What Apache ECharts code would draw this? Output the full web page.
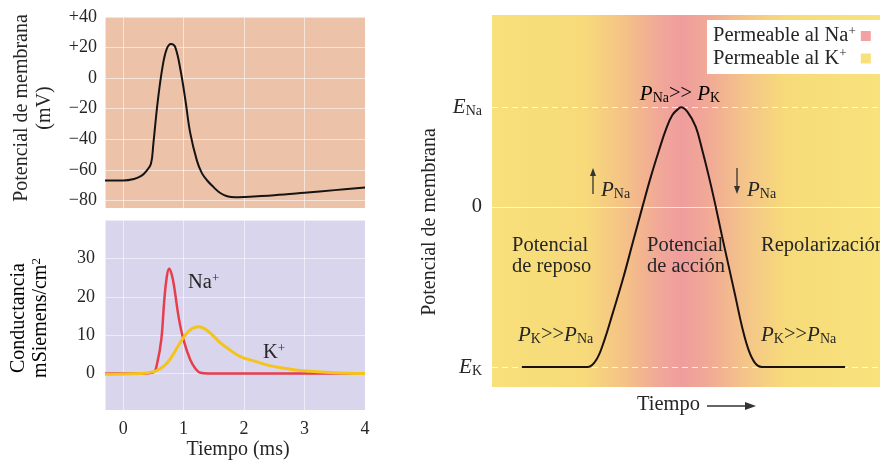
<!DOCTYPE html>
<html>
<head>
<meta charset="utf-8">
<title>Potencial de acción</title>
<script src="https://cdn.jsdelivr.net/npm/echarts@6/dist/echarts.min.js"></script>
<style>
  html, body { margin: 0; padding: 0; background: #fff; }
  #chart { width: 880px; height: 462px; }
</style>
</head>
<body>
<div id="chart"></div>
<script>
  // potencial de membrana (mV) frente al tiempo (ms)
  const vmTime = [-0.3, 0.0, 0.18, 0.3, 0.38, 0.46, 0.5, 0.57, 0.65, 0.72, 0.79, 0.86, 0.95, 1.03, 1.11, 1.22, 1.3, 1.39, 1.5, 1.6, 1.72, 1.85, 2.0, 2.5, 3.0, 3.5, 4.0]
  const vmValues = [-67, -67, -66, -64, -61, -56, -42.8, -16, 7, 19, 22.4, 20.5, 5, -14.5, -36, -54, -62, -67, -71.5, -75, -77.3, -78, -77.8, -76.6, -75, -73.3, -71.6]

  // conductancias (mSiemens/cm2)
  const naTime = [-0.3, 0.3, 0.5, 0.56, 0.63, 0.68, 0.72, 0.76, 0.8, 0.84, 0.92, 1.0, 1.11, 1.2, 1.28, 1.4, 2, 3, 4]
  const naValues = [0, 0, 0.3, 2.5, 8.7, 19, 25, 27.3, 26, 23, 14.5, 8.7, 3.6, 1.2, 0.2, 0, 0, 0, 0]
  const kTime = [-0.3, 0.3, 0.51, 0.62, 0.73, 0.82, 0.9, 1.0, 1.07, 1.14, 1.24, 1.32, 1.39, 1.5, 1.6, 1.75, 1.93, 2.2, 2.44, 2.7, 2.98, 3.5, 4.0]
  const kValues = [-0.2, 0, 0.5, 1.3, 2.8, 4.8, 6.9, 9.4, 10.8, 11.7, 12.2, 11.9, 11.2, 9.7, 8.1, 6.3, 4.5, 3.1, 2.0, 1.3, 0.7, 0.2, 0]

  // esquema: potencial frente a tiempo (unidades arbitrarias)
  const apTime = [7.7, 18, 24.7, 26.85, 28.97, 31.1, 33.67, 36.23, 38.79, 40.95, 43.08, 44.79, 46.49, 48.21, 48.72, 50.33, 52.49, 54.18, 55.9, 57.62, 59.31, 61.03, 62.74, 64.44, 66.15, 67.87, 69.56, 76, 91.0]
  const apValues = [-88, -88, -88, -84.2, -73.2, -58.5, -40.2, -20, 0.2, 16.7, 31.4, 42.4, 50.6, 54.3, 54.8, 52.4, 44.2, 31.4, 16.7, 0.6, -16.3, -32.8, -49.3, -65.8, -78.7, -86, -88, -88, -88]
  const E_NA = 55
  const E_K = -88

  const SERIF = 'Liberation Serif'
  const INK = '#262626'

  const zip = (xs, ys) => xs.map((x, i) => [x, ys[i]])

  const sub = {fontFamily: SERIF, fontSize: 14, color: INK, padding: [9, 0, 0, 0]}
  const sup = {fontFamily: SERIF, fontSize: 13, color: INK, padding: [0, 0, 9, 0]}
  const it = {fontFamily: SERIF, fontSize: 21, fontStyle: 'italic', color: INK}
  const tx = {fontFamily: SERIF, fontSize: 20.5, color: INK}
  const rich = {i: it, s: sub, u: sup, t: tx}

  // hueco para que los textos de la leyenda queden alineados a la izquierda
  const ctx = document.createElement('canvas').getContext('2d')
  ctx.font = '20.5px "Liberation Serif"'
  const legendGap = ctx.measureText('Na').width - ctx.measureText('K').width
  const legendRich = Object.assign({}, rich, {g: {width: legendGap}})

  const gridLine = {show: true, lineStyle: {color: 'rgba(255,255,255,0.55)', width: 1}}

  const chart = echarts.init(document.getElementById('chart'), null, {renderer: 'canvas'})

  function text(x, y, str, extra) {
    return Object.assign({
      type: 'text', x: x, y: y, silent: true,
      style: {text: str, rich: rich, fontFamily: SERIF, fontSize: 20.5, fill: INK,
        align: 'left', verticalAlign: 'middle', lineHeight: 21}
    }, extra || {})
  }

  function arrow(x, y1, y2) {
    const dir = y2 > y1 ? 1 : -1
    return [
      {type: 'line', silent: true, shape: {x1: x, y1: y1, x2: x, y2: y2 - dir * 6}, style: {stroke: '#333', lineWidth: 1.3}},
      {type: 'polygon', silent: true, shape: {points: [[x - 3, y2 - dir * 8], [x + 3, y2 - dir * 8], [x, y2]]}, style: {fill: '#333'}}
    ]
  }

  const refLine = {color: 'rgba(255,255,255,0.8)', type: [6, 4], width: 1}

  chart.setOption({
    animation: false,
    textStyle: {fontFamily: SERIF},
    grid: [
      {left: 105, top: 17, width: 260, height: 191, show: true, backgroundColor: '#ecc3a9', borderWidth: 0},
      {left: 105, top: 220, width: 260, height: 190, show: true, backgroundColor: '#d9d5ec', borderWidth: 0},
      {
        left: 492, top: 15, width: 390, height: 372, show: true, borderWidth: 0,
        backgroundColor: {
          type: 'linear', x: 0, y: 0, x2: 1, y2: 0,
          colorStops: [
            {offset: 0, color: '#f8e07a'},
            {offset: 0.24, color: '#f7da7a'},
            {offset: 0.34, color: '#f4c286'},
            {offset: 0.43, color: '#f1a898'},
            {offset: 0.49, color: '#ef9d9d'},
            {offset: 0.56, color: '#f1aa96'},
            {offset: 0.66, color: '#f4c688'},
            {offset: 0.76, color: '#f7db7a'},
            {offset: 1, color: '#f8e27c'}
          ]
        }
      }
    ],
    xAxis: [
      {gridIndex: 0, type: 'value', min: -0.3, max: 4, splitNumber: 4,
        axisLine: {show: false}, axisTick: {show: false}, axisLabel: {show: false}, splitLine: gridLine},
      {gridIndex: 1, type: 'value', min: -0.3, max: 4, splitNumber: 4,
        axisLine: {show: false}, axisTick: {show: false}, splitLine: gridLine,
        axisLabel: {fontFamily: SERIF, fontSize: 18, color: INK, margin: 10,
          formatter: v => Number.isInteger(v) ? String(v) : ''}},
      {gridIndex: 2, type: 'value', min: 0, max: 100, show: false}
    ],
    yAxis: [
      {gridIndex: 0, type: 'value', min: -85, max: 40, splitNumber: 6,
        axisLine: {show: false}, axisTick: {show: false}, splitLine: gridLine,
        axisLabel: {fontFamily: SERIF, fontSize: 18, color: INK, margin: 8,
          formatter: v => v % 20 !== 0 ? '' : v > 0 ? '+' + v : v < 0 ? '\u2212' + Math.abs(v) : '0'}},
      {gridIndex: 1, type: 'value', min: -9.5, max: 40, splitNumber: 5,
        axisLine: {show: false}, axisTick: {show: false}, splitLine: gridLine,
        axisLabel: {fontFamily: SERIF, fontSize: 18, color: INK, margin: 10,
          formatter: v => (v % 10 === 0 && v >= 0 && v < 40) ? String(v) : ''}},
      {gridIndex: 2, type: 'value', min: -99, max: 105.6, show: false}
    ],
    legend: {
      orient: 'vertical', left: 707, top: 20, align: 'right', icon: 'rect',
      itemWidth: 10, itemHeight: 10, itemGap: 1, selectedMode: false,
      backgroundColor: '#fff', padding: [5, 10, 5, 6],
      textStyle: {fontFamily: SERIF, fontSize: 20.5, color: INK, rich: legendRich},
      formatter: name => name === 'na' ? '{t|Permeable al Na}{u|+}' : '{t|Permeable al K}{u|+}{g|}',
      data: ['na', 'k']
    },
    series: [
      {type: 'line', xAxisIndex: 0, yAxisIndex: 0, data: zip(vmTime, vmValues), smooth: 0.4,
        showSymbol: false, lineStyle: {color: '#141414', width: 2}},
      {type: 'line', xAxisIndex: 1, yAxisIndex: 1, data: zip(naTime, naValues), smooth: 0.4,
        showSymbol: false, lineStyle: {color: '#e63e4c', width: 2.5}},
      {type: 'line', xAxisIndex: 1, yAxisIndex: 1, data: zip(kTime, kValues), smooth: 0.4,
        showSymbol: false, lineStyle: {color: '#f4c41c', width: 3}},
      // líneas de referencia, por debajo de la curva
      {type: 'line', xAxisIndex: 2, yAxisIndex: 2, z: 1, data: zip(apTime, apValues),
        showSymbol: false, lineStyle: {opacity: 0},
        markLine: {
          silent: true, symbol: 'none', z: 1,
          label: {position: 'start', distance: 10, rich: rich, color: INK},
          data: [
            {yAxis: E_NA, lineStyle: refLine, label: {formatter: '{i|E}{s|Na}'}},
            {yAxis: 0, lineStyle: {color: 'rgba(255,255,255,0.75)', type: 'solid', width: 1}, label: {formatter: '{t|0}'}},
            {yAxis: E_K, lineStyle: refLine, label: {formatter: '{i|E}{s|K}'}}
          ]
        }},
      {type: 'line', xAxisIndex: 2, yAxisIndex: 2, z: 3, data: zip(apTime, apValues), smooth: 0.4,
        showSymbol: false, lineStyle: {color: '#1a1010', width: 2}},
      {name: 'na', type: 'line', xAxisIndex: 2, yAxisIndex: 2, data: [], itemStyle: {color: '#f2a2a2'}},
      {name: 'k', type: 'line', xAxisIndex: 2, yAxisIndex: 2, data: [], itemStyle: {color: '#f8e07a'}}
    ],
    graphic: [
      // nombres de los ejes
      text(33, 108, '', {rotation: Math.PI / 2,
        style: {text: 'Potencial de membrana\n(mV)', fontFamily: SERIF, fontSize: 20, fill: INK, align: 'center', verticalAlign: 'middle', lineHeight: 23}}),
      text(30, 318, '', {rotation: Math.PI / 2,
        style: {text: '{t|Conductancia}\n{t|mSiemens/cm}{u|2}', rich: {t: {fontFamily: SERIF, fontSize: 20, color: INK, lineHeight: 22}, u: sup},
          align: 'center', verticalAlign: 'middle'}}),
      text(238, 450, '', {style: {text: 'Tiempo (ms)', fontFamily: SERIF, fontSize: 20, fill: INK, align: 'center', verticalAlign: 'middle'}}),
      text(430, 222, '', {rotation: Math.PI / 2,
        style: {text: 'Potencial de membrana', fontFamily: SERIF, fontSize: 20, fill: INK, align: 'center', verticalAlign: 'middle'}}),
      // etiquetas de las conductancias
      text(188, 283, '{t|Na}{u|+}'),
      text(263, 353, '{t|K}{u|+}'),
      // anotaciones del esquema
      text(680, 94, '', {style: {text: '{i|P}{s|Na}{t|>> }{i|P}{s|K}', rich: rich, align: 'center', verticalAlign: 'middle'}}),
      text(601, 190, '{i|P}{s|Na}'),
      text(747, 190, '{i|P}{s|Na}'),
      text(512, 256, 'Potencial\nde reposo'),
      text(647, 256, 'Potencial\nde acción'),
      text(761, 246, 'Repolarización'),
      text(518, 335, '{i|P}{s|K}{t|>>}{i|P}{s|Na}'),
      text(761, 335, '{i|P}{s|K}{t|>>}{i|P}{s|Na}'),
      text(637, 405, 'Tiempo'),
      {type: 'line', silent: true, shape: {x1: 707, y1: 406, x2: 748, y2: 406}, style: {stroke: '#333', lineWidth: 1.3}},
      {type: 'polygon', silent: true, shape: {points: [[745, 402], [745, 410], [756, 406]]}, style: {fill: '#333'}}
    ].concat(arrow(593, 194, 168), arrow(737, 168, 194))
  })
</script>
</body>
</html>
